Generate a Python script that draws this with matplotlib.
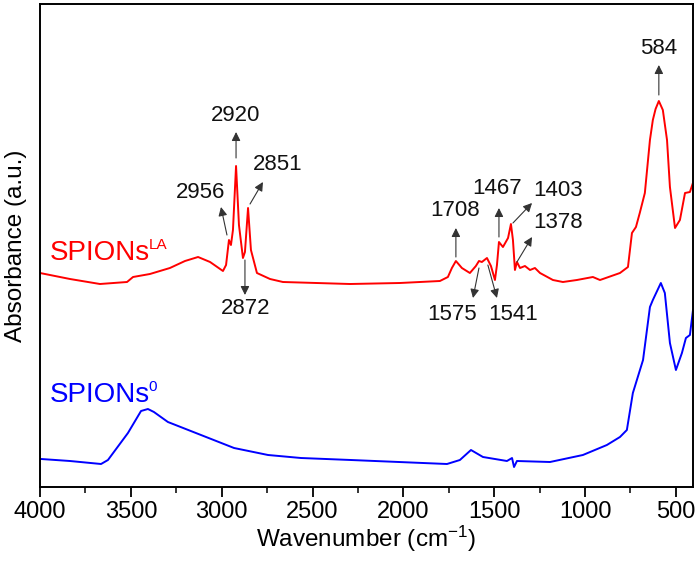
import matplotlib
matplotlib.use("Agg")
import matplotlib.pyplot as plt
from matplotlib.ticker import MultipleLocator

plt.rcParams['font.family'] = ['Liberation Sans', 'DejaVu Sans']
plt.rcParams['mathtext.fontset'] = 'custom'
plt.rcParams['mathtext.rm'] = 'Liberation Sans'

# Red spectrum: SPIONs^LA (wavenumber cm-1, absorbance a.u.)
wn_la = [4000, 3835, 3670, 3521, 3488, 3395, 3285, 3202, 3130, 3064, 2993, 2976,
         2960, 2949, 2938, 2921, 2905, 2883, 2872, 2855, 2839, 2806, 2734, 2663,
         2294, 2019, 1799, 1755, 1733, 1711, 1678, 1634, 1601, 1584, 1568, 1540,
         1518, 1496, 1485, 1474, 1452, 1424, 1408, 1397, 1386, 1375, 1358, 1331,
         1303, 1276, 1248, 1177, 1122, 1045, 957, 918, 902, 808, 764, 742, 720,
         699, 671, 643, 627, 612, 594, 572, 549, 533, 505, 478, 450, 423, 401]
abs_la = [2.14, 2.08, 2.03, 2.05, 2.10, 2.13, 2.19, 2.26, 2.30, 2.25, 2.16, 2.22,
          2.47, 2.42, 2.57, 3.21, 2.62, 2.29, 2.35, 2.79, 2.37, 2.14, 2.08, 2.05,
          2.03, 2.04, 2.06, 2.10, 2.19, 2.26, 2.19, 2.14, 2.21, 2.26, 2.25, 2.29,
          2.21, 2.07, 2.22, 2.45, 2.40, 2.49, 2.63, 2.47, 2.17, 2.25, 2.19, 2.21,
          2.17, 2.19, 2.14, 2.07, 2.05, 2.07, 2.10, 2.07, 2.08, 2.14, 2.20, 2.54, 2.60,
          2.74, 2.94, 3.47, 3.67, 3.78, 3.86, 3.77, 3.47, 3.00, 2.59, 2.67, 2.94, 2.95, 3.07]

# Blue spectrum: SPIONs^0
wn_0 = [3994, 3835, 3664, 3626, 3516, 3444, 3406, 3373, 3296, 3114, 2932, 2745,
        2564, 2289, 1760, 1689, 1628, 1562, 1430, 1402, 1391, 1375, 1193, 1012,
        880, 808, 770, 737, 681, 643, 627, 583, 561, 533, 500, 467, 445, 423, 406]
abs_0 = [0.28, 0.26, 0.23, 0.27, 0.54, 0.76, 0.78, 0.75, 0.65, 0.52, 0.39, 0.32,
         0.29, 0.27, 0.23, 0.27, 0.37, 0.30, 0.26, 0.29, 0.20, 0.26, 0.25, 0.32,
         0.42, 0.50, 0.57, 0.94, 1.27, 1.80, 1.87, 2.04, 1.94, 1.44, 1.17, 1.34,
         1.49, 1.52, 1.77]

# Peak annotations: label, arrow tail (x, y), arrow head (x, y), text (x, y)
peak_labels = ["584", "2920", "2956", "2851", "2872", "1708", "1467", "1403",
               "1378", "1575", "1541"]
arrow_tail = [(594, 3.92), (2921, 3.29), (2971, 2.52), (2844, 2.83), (2872, 2.27),
              (1711, 2.30), (1474, 2.50), (1397, 2.64), (1375, 2.25), (1584, 2.19),
              (1535, 2.22)]
arrow_head = [(594, 4.22), (2921, 3.55), (3004, 2.80), (2773, 3.05), (2872, 1.92),
              (1711, 2.59), (1474, 2.79), (1292, 2.84), (1292, 2.50), (1617, 1.89),
              (1485, 1.89)]
text_pos = [(594, 4.39), (2921, 3.72), (3119, 2.95), (2690, 3.22), (2866, 1.78),
            (1716, 2.77), (1485, 2.99), (1149, 2.97), (1149, 2.64), (1733, 1.72),
            (1397, 1.72)]

fig = plt.figure(figsize=(7.0, 5.65), dpi=100)
ax = fig.add_axes([40/700, 78/565, 653/700, 483/565])

ax.plot(wn_la, abs_la, color='#ff0000', lw=1.4)
ax.plot(wn_0, abs_0, color='#0000ff', lw=1.4)

for lab, t, h, p in zip(peak_labels, arrow_tail, arrow_head, text_pos):
    ax.annotate("", xy=h, xytext=t,
                arrowprops=dict(arrowstyle='-|>', color='#333333', lw=0.8,
                                mutation_scale=13, shrinkA=0, shrinkB=0))
    ax.text(p[0], p[1], lab, fontsize=16, ha='center', va='center', color='#111111')

t1 = ax.text(3945, 2.27, "SPIONs", color='#ff0000', fontsize=20,
             ha='left', va='baseline')
ax.annotate("LA", xy=(1, 1), xycoords=t1, xytext=(-1, 1.5), textcoords='offset points',
            color='#ff0000', fontsize=11, ha='left', va='top')
t2 = ax.text(3945, 0.85, "SPIONs", color='#0000ff', fontsize=20,
             ha='left', va='baseline')
ax.annotate("0", xy=(1, 1), xycoords=t2, xytext=(-1, 1.5), textcoords='offset points',
            color='#0000ff', fontsize=11, ha='left', va='top')

ax.set_xlim(4000, 406)
ax.set_ylim(0, 4.83)
ax.xaxis.set_major_locator(MultipleLocator(500))
ax.xaxis.set_minor_locator(MultipleLocator(250))
ax.set_yticks([])
ax.tick_params(axis='x', which='major', direction='out', length=7, width=1.3,
               labelsize=17, pad=3, top=False)
ax.tick_params(axis='x', which='minor', direction='out', length=4, width=1.1, top=False)
for s in ax.spines.values():
    s.set_linewidth(1.4)

ax.set_xlabel(r"Wavenumber (cm$\mathregular{^{-1}}$)", fontsize=17.5, labelpad=1)
ax.set_ylabel("Absorbance (a.u.)", fontsize=17.5, labelpad=9)

fig.savefig("out.png", dpi=100)
